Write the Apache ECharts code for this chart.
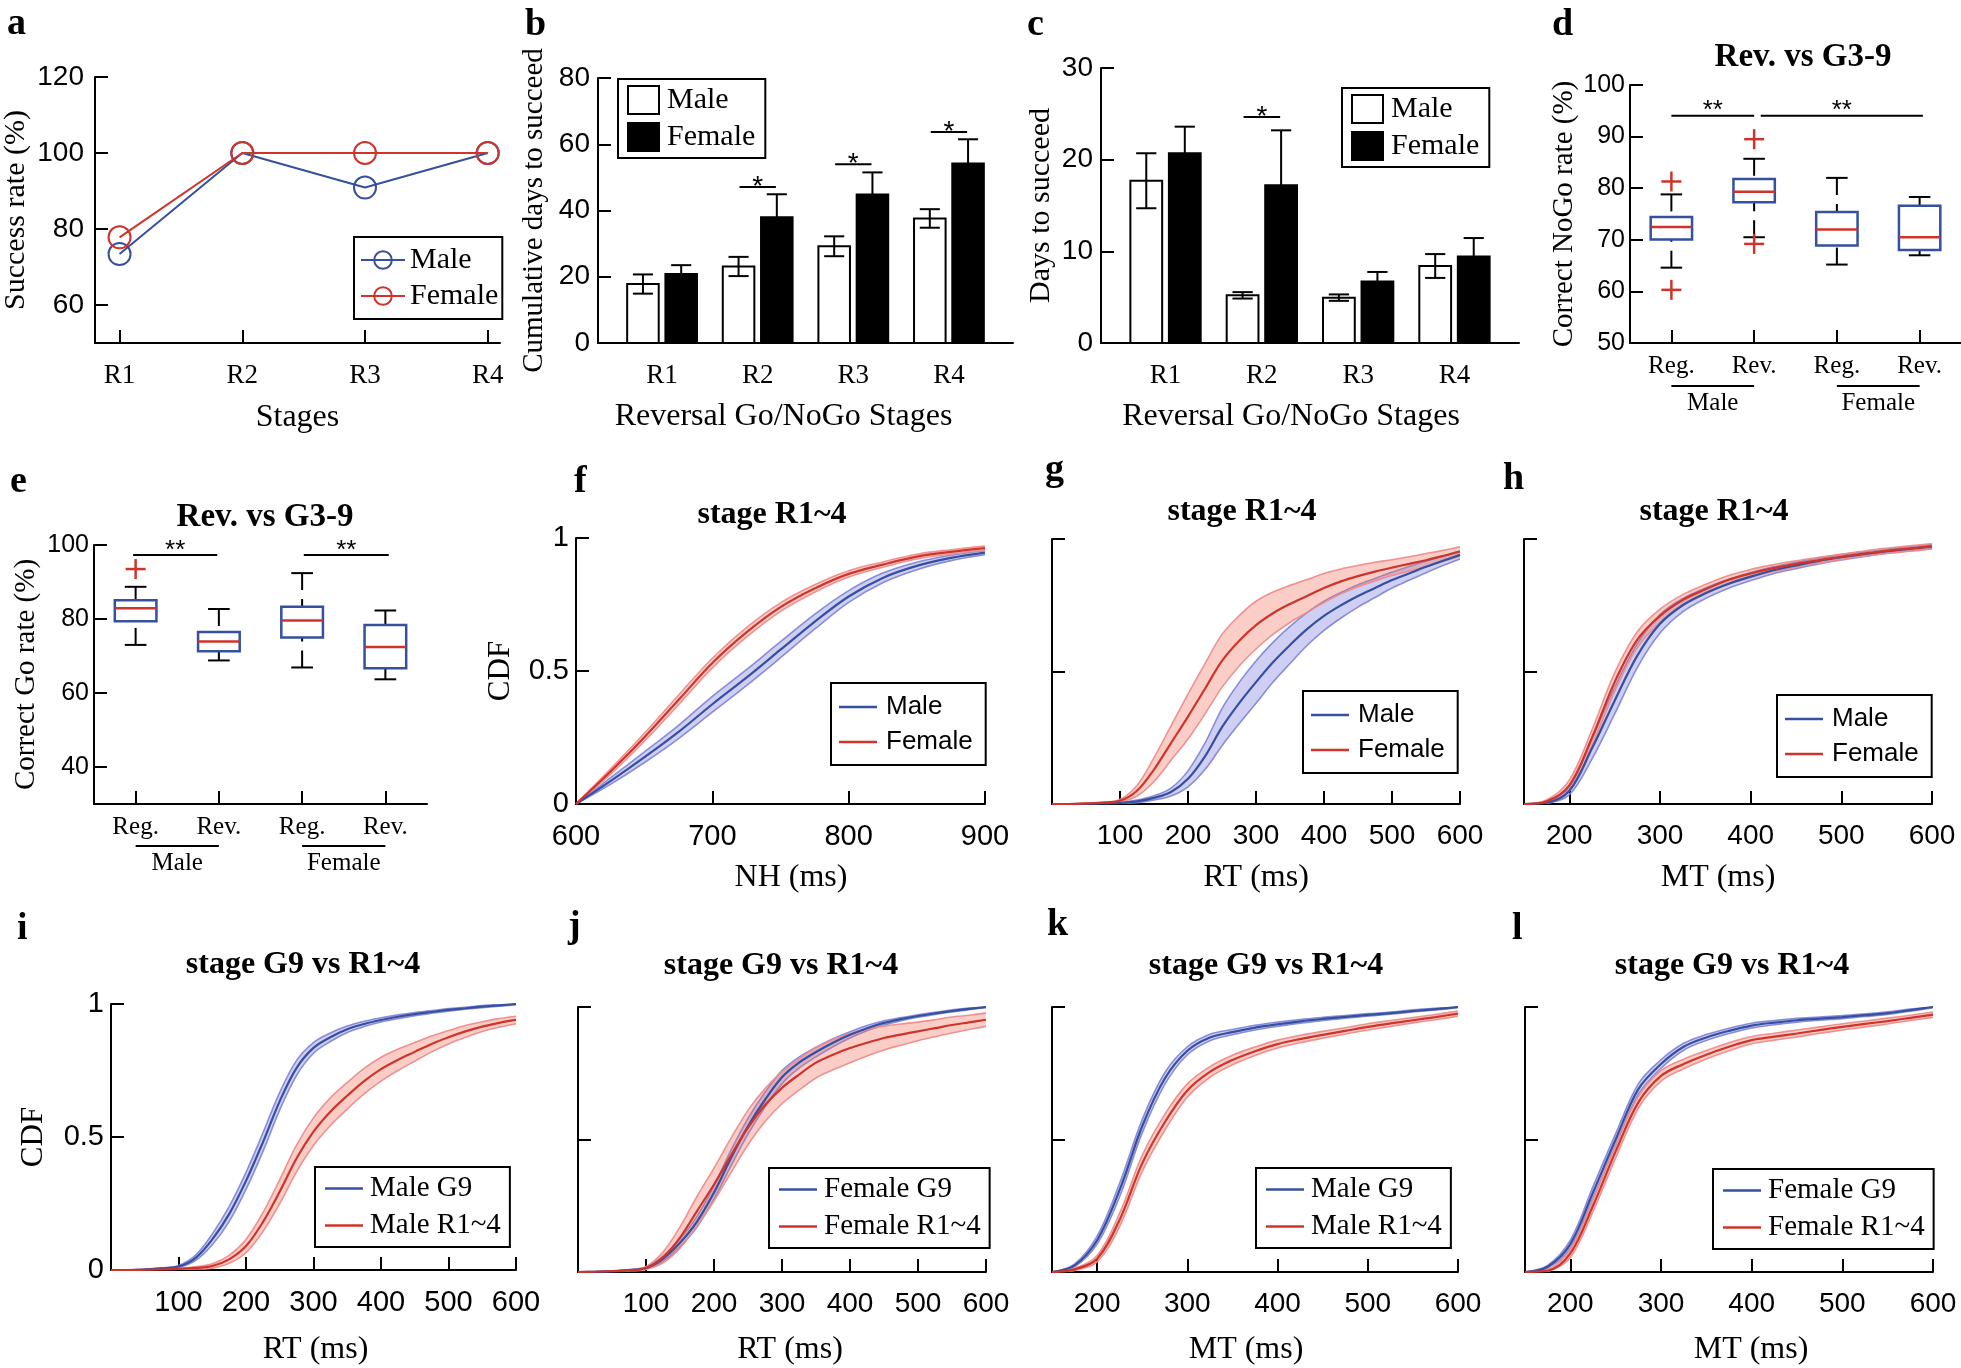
<!DOCTYPE html>
<html><head><meta charset="utf-8">
<script src="https://cdn.jsdelivr.net/npm/echarts@6/dist/echarts.min.js"></script>
<style>html,body{margin:0;padding:0;background:#fff}#c{width:1961px;height:1368px}</style>
</head><body><div id="c"></div><script>
// ---------------- data ----------------
const stageCats = ['R1', 'R2', 'R3', 'R4'];
const stageIdx = [1, 2, 3, 4];
// a
const aMale = [73.4, 100, 90.9, 100];
const aFemale = [77.8, 100, 100, 100];
const aTicks = [60, 80, 100, 120];
// b
const bMaleMean = [17.8, 23.1, 29.2, 37.6];
const bMaleErr = [2.9, 2.9, 3.0, 2.8];
const bFemaleMean = [20.8, 38.0, 44.8, 54.2];
const bFemaleErr = [2.7, 6.9, 6.7, 7.3];
const bSigStage = [2, 3, 4];
const bSigHeight = [47.1, 54.0, 63.7];
// c
const cMaleMean = [17.7, 5.2, 4.95, 8.4];
const cMaleErr = [3.0, 0.35, 0.35, 1.3];
const cFemaleMean = [20.7, 17.2, 6.7, 9.45];
const cFemaleErr = [2.9, 6.0, 1.05, 2.0];
const cSigStage = [2];
const cSigHeight = [24.65];
// d, e boxplots: [min, Q1, median, Q3, max]
const boxCats = ['Reg.', 'Rev.', 'Reg.', 'Rev.'];
const groupNames = ['Male', 'Female'];
const groupSpans = [[1, 2], [3, 4]];
const dBoxes = [[64.6, 70.05, 72.5, 74.4, 78.8], [70.5, 77.3, 79.3, 81.8, 85.7], [65.2, 68.9, 72.0, 75.4, 82.0], [67.0, 68.0, 70.5, 76.6, 78.3]];
const dOutliers = [[1, 81.3], [1, 60.3], [2, 89.5], [2, 69.2]];
const dSig = [[1, 2, 94.05], [2.08, 4.04, 94.05]];
const eBoxes = [[73.0, 79.4, 82.9, 85.1, 88.7], [68.8, 71.3, 73.9, 76.5, 82.7], [66.9, 75.0, 79.6, 83.3, 92.4], [63.7, 66.7, 72.4, 78.4, 82.3]];
const eOutliers = [[1, 93.5]];
const eSig = [[0.97, 1.98, 97.3], [3.02, 4.04, 97.3]];
const eTicks = [40, 60, 80, 100];
// CDF ticks
const cdfTicks = [0, 0.5, 1];
const nhTicks = [600, 700, 800, 900];
const rtTicks = [100, 200, 300, 400, 500, 600];
const mtTicks = [200, 300, 400, 500, 600];
// f (NH, ms)
const fX = [600, 625, 650, 675, 700, 725, 750, 775, 800, 825, 850, 875, 900];
const fMale = [0, 0.085, 0.175, 0.27, 0.375, 0.475, 0.58, 0.685, 0.78, 0.85, 0.895, 0.925, 0.945];
const fMaleHW = [0, 0.012, 0.02, 0.025, 0.03, 0.03, 0.03, 0.028, 0.022, 0.018, 0.014, 0.01, 0.008];
const fFemale = [0, 0.12, 0.25, 0.39, 0.53, 0.645, 0.74, 0.81, 0.865, 0.9, 0.93, 0.948, 0.962];
const fFemaleHW = [0, 0.01, 0.015, 0.018, 0.018, 0.018, 0.016, 0.014, 0.012, 0.01, 0.009, 0.008, 0.008];
// RT grid (g, i, j)
const rtX = [0, 25, 50, 75, 100, 125, 150, 175, 200, 225, 250, 275, 300, 325, 350, 375, 400, 425, 450, 475, 500, 525, 550, 575, 600];
// g
const gMale = [0, 0, 0.001, 0.002, 0.004, 0.01, 0.023, 0.045, 0.095, 0.18, 0.29, 0.38, 0.46, 0.535, 0.6, 0.66, 0.71, 0.75, 0.785, 0.815, 0.845, 0.87, 0.895, 0.918, 0.94];
const gMaleHW = [0, 0, 0, 0.001, 0.002, 0.005, 0.008, 0.015, 0.03, 0.05, 0.07, 0.078, 0.08, 0.075, 0.07, 0.062, 0.055, 0.048, 0.042, 0.036, 0.03, 0.026, 0.022, 0.018, 0.015];
const gFemale = [0, 0, 0.002, 0.005, 0.012, 0.05, 0.13, 0.23, 0.33, 0.435, 0.54, 0.615, 0.675, 0.72, 0.755, 0.785, 0.815, 0.84, 0.86, 0.877, 0.892, 0.906, 0.92, 0.936, 0.953];
const gFemaleHW = [0, 0, 0.001, 0.002, 0.005, 0.02, 0.045, 0.065, 0.085, 0.095, 0.1, 0.095, 0.09, 0.08, 0.07, 0.062, 0.055, 0.047, 0.04, 0.035, 0.03, 0.027, 0.025, 0.021, 0.018];
// i
const iMaleG9 = [0, 0, 0.002, 0.006, 0.013, 0.045, 0.115, 0.21, 0.335, 0.48, 0.635, 0.76, 0.835, 0.875, 0.905, 0.925, 0.94, 0.952, 0.962, 0.97, 0.978, 0.984, 0.99, 0.995, 1.0];
const iMaleG9HW = [0, 0, 0, 0.002, 0.004, 0.01, 0.02, 0.028, 0.032, 0.035, 0.033, 0.028, 0.02, 0.016, 0.012, 0.01, 0.008, 0.007, 0.006, 0.005, 0.005, 0.004, 0.004, 0.003, 0.003];
const iMaleR = [0, 0, 0.001, 0.002, 0.004, 0.008, 0.015, 0.04, 0.09, 0.18, 0.295, 0.42, 0.52, 0.595, 0.655, 0.71, 0.755, 0.79, 0.82, 0.85, 0.875, 0.897, 0.915, 0.929, 0.94];
const iMaleRHW = [0, 0, 0, 0.001, 0.002, 0.004, 0.008, 0.015, 0.025, 0.035, 0.045, 0.05, 0.052, 0.052, 0.05, 0.048, 0.045, 0.04, 0.035, 0.03, 0.025, 0.022, 0.018, 0.016, 0.014];
// j
const jFemG9 = [0, 0.001, 0.003, 0.007, 0.015, 0.05, 0.11, 0.19, 0.3, 0.43, 0.55, 0.65, 0.735, 0.79, 0.83, 0.865, 0.895, 0.92, 0.94, 0.954, 0.966, 0.976, 0.985, 0.993, 1.0];
const jFemG9HW = [0, 0, 0, 0.002, 0.004, 0.01, 0.015, 0.02, 0.025, 0.03, 0.03, 0.028, 0.025, 0.021, 0.018, 0.015, 0.012, 0.01, 0.008, 0.006, 0.005, 0.004, 0.004, 0.003, 0.003];
const jFemR = [0, 0.001, 0.003, 0.006, 0.015, 0.055, 0.13, 0.23, 0.33, 0.44, 0.545, 0.63, 0.695, 0.745, 0.79, 0.82, 0.845, 0.865, 0.883, 0.896, 0.908, 0.92, 0.932, 0.942, 0.952];
const jFemRHW = [0, 0, 0.001, 0.002, 0.005, 0.02, 0.04, 0.055, 0.062, 0.065, 0.065, 0.062, 0.06, 0.059, 0.058, 0.057, 0.055, 0.05, 0.045, 0.04, 0.035, 0.032, 0.03, 0.027, 0.025];
// MT grid (h, k, l)
const mtX = [150, 175, 200, 225, 250, 275, 300, 325, 350, 375, 400, 425, 450, 475, 500, 525, 550, 575, 600];
// h
const hMale = [0, 0.005, 0.05, 0.21, 0.39, 0.56, 0.68, 0.75, 0.795, 0.83, 0.858, 0.882, 0.9, 0.917, 0.931, 0.943, 0.954, 0.963, 0.972];
const hMaleHW = [0, 0.003, 0.015, 0.04, 0.05, 0.045, 0.035, 0.025, 0.02, 0.017, 0.015, 0.013, 0.012, 0.011, 0.01, 0.009, 0.008, 0.008, 0.008];
const hFemale = [0, 0.01, 0.07, 0.25, 0.46, 0.62, 0.71, 0.77, 0.81, 0.845, 0.87, 0.89, 0.906, 0.92, 0.933, 0.945, 0.955, 0.964, 0.972];
const hFemaleHW = [0, 0.005, 0.02, 0.03, 0.035, 0.03, 0.025, 0.02, 0.018, 0.016, 0.015, 0.013, 0.012, 0.011, 0.01, 0.01, 0.01, 0.01, 0.01];
// k
const kMaleG9 = [0, 0.025, 0.12, 0.31, 0.55, 0.73, 0.835, 0.885, 0.905, 0.922, 0.935, 0.946, 0.955, 0.963, 0.97, 0.977, 0.985, 0.992, 1.0];
const kMaleG9HW = [0, 0.005, 0.015, 0.025, 0.025, 0.022, 0.015, 0.012, 0.01, 0.009, 0.008, 0.007, 0.006, 0.005, 0.005, 0.004, 0.004, 0.003, 0.003];
const kMaleR = [0, 0.01, 0.05, 0.197, 0.41, 0.565, 0.685, 0.755, 0.8, 0.833, 0.86, 0.879, 0.895, 0.91, 0.925, 0.938, 0.95, 0.962, 0.975];
const kMaleRHW = [0, 0.004, 0.012, 0.025, 0.03, 0.03, 0.025, 0.02, 0.018, 0.016, 0.015, 0.014, 0.013, 0.012, 0.012, 0.011, 0.01, 0.01, 0.01];
// l
const lFemG9 = [0, 0.02, 0.105, 0.3, 0.5, 0.69, 0.785, 0.85, 0.885, 0.91, 0.93, 0.941, 0.95, 0.956, 0.962, 0.969, 0.977, 0.988, 1.0];
const lFemG9HW = [0, 0.005, 0.015, 0.022, 0.022, 0.02, 0.016, 0.013, 0.011, 0.01, 0.009, 0.008, 0.007, 0.006, 0.006, 0.005, 0.005, 0.004, 0.003];
const lFemR = [0, 0.005, 0.07, 0.25, 0.455, 0.64, 0.74, 0.785, 0.82, 0.85, 0.875, 0.888, 0.9, 0.913, 0.925, 0.936, 0.947, 0.959, 0.971];
const lFemRHW = [0, 0.003, 0.015, 0.022, 0.025, 0.022, 0.02, 0.018, 0.016, 0.015, 0.014, 0.013, 0.013, 0.012, 0.012, 0.011, 0.011, 0.01, 0.01];

// ---------------- style / layout ----------------
const SERIF = '"Liberation Serif","Times New Roman",serif';
const SANS = '"Liberation Sans",Arial,sans-serif';
const BLUE = '#34509f', RED = '#cf342a';
const BLUE_FILL = 'rgba(95,95,215,0.30)', BLUE_EDGE = 'rgba(125,130,215,0.9)';
const RED_FILL = 'rgba(240,110,90,0.34)', RED_EDGE = 'rgba(238,140,140,0.95)';
const BAR_W = 0.33, BAR_OFF = 0.2, CAP_W = 0.21, SIG_HALF = 0.19;
const BOX_W = 0.5, WCAP_W = 0.26, SMOOTH = 0.35;

const layout = [
  {left: 94, top: 77, width: 406, height: 266},     // a
  {left: 598, top: 78, width: 415, height: 265},    // b
  {left: 1101, top: 68, width: 418, height: 275},   // c
  {left: 1630, top: 85, width: 335, height: 258},   // d
  {left: 94, top: 545, width: 333, height: 259},    // e
  {left: 576, top: 538, width: 409, height: 266},   // f
  {left: 1052, top: 539, width: 408, height: 265},  // g
  {left: 1524, top: 539, width: 408, height: 265},  // h
  {left: 111, top: 1004, width: 405, height: 266},  // i
  {left: 578, top: 1007, width: 408, height: 265},  // j
  {left: 1052, top: 1007, width: 406, height: 265}, // k
  {left: 1525, top: 1007, width: 408, height: 265}  // l
];

const AX = {show: true, onZero: false, lineStyle: {color: '#000', width: 2}};
const NO = {show: false};
const TICK_STYLE = {show: true, inside: true, length: 13, lineStyle: {color: '#000', width: 2}};
function tick(vals) { return Object.assign({customValues: vals}, TICK_STYLE); }
function lbl(font, size, margin, extra) { return Object.assign({fontFamily: font, fontSize: size, color: '#000', margin: margin}, extra || {}); }
function nm(size, extra) { return Object.assign({fontFamily: SERIF, fontSize: size, color: '#000'}, extra || {}); }
function xVal(gi, min, max, o) {
  return Object.assign({gridIndex: gi, type: 'value', min, max, axisLine: AX, splitLine: NO, nameLocation: 'middle'}, o);
}
function yVal(gi, min, max, o) {
  return Object.assign({gridIndex: gi, type: 'value', min, max, axisLine: AX, splitLine: NO, nameLocation: 'middle', nameRotate: 90}, o);
}
const stageLbl = (m) => lbl(SERIF, 27, m, {customValues: stageIdx, formatter: v => stageCats[v - 1]});
const boxLbl = lbl(SERIF, 25, 11, {customValues: stageIdx, formatter: v => boxCats[v - 1]});

const xAxis = [
  xVal(0, 0.8, 4.1, {axisTick: tick(stageIdx), axisLabel: stageLbl(19), name: 'Stages', nameGap: 59, nameTextStyle: nm(32)}),
  xVal(1, 0.33, 4.67, {axisTick: NO, axisLabel: stageLbl(19), name: 'Reversal Go/NoGo Stages', nameGap: 58, nameTextStyle: nm(32, {padding: [0, 44, 0, 0]})}),
  xVal(2, 0.33, 4.67, {axisTick: NO, axisLabel: stageLbl(19), name: 'Reversal Go/NoGo Stages', nameGap: 58, nameTextStyle: nm(32, {padding: [0, 38, 0, 0]})}),
  xVal(3, 0.5, 4.5, {axisTick: tick(stageIdx), axisLabel: boxLbl}),
  xVal(4, 0.5, 4.5, {axisTick: tick(stageIdx), axisLabel: boxLbl}),
  xVal(5, 600, 900, {axisTick: tick(nhTicks), axisLabel: lbl(SANS, 29, 18, {customValues: nhTicks}),
    name: 'NH (ms)', nameGap: 58, nameTextStyle: nm(32, {padding: [0, 0, 0, 21]})}),
  xVal(6, 0, 600, {axisTick: tick(rtTicks), axisLabel: lbl(SANS, 28, 18, {customValues: rtTicks}),
    name: 'RT (ms)', nameGap: 58, nameTextStyle: nm(32)}),
  xVal(7, 150, 600, {axisTick: tick(mtTicks), axisLabel: lbl(SANS, 28, 18, {customValues: mtTicks}),
    name: 'MT (ms)', nameGap: 58, nameTextStyle: nm(32, {padding: [0, 20, 0, 0]})}),
  xVal(8, 0, 600, {axisTick: tick(rtTicks), axisLabel: lbl(SANS, 29, 18, {customValues: rtTicks}),
    name: 'RT (ms)', nameGap: 64, nameTextStyle: nm(32, {padding: [0, 0, 0, 4]})}),
  xVal(9, 0, 600, {axisTick: tick(rtTicks), axisLabel: lbl(SANS, 28, 18, {customValues: rtTicks}),
    name: 'RT (ms)', nameGap: 62, nameTextStyle: nm(32, {padding: [0, 0, 0, 16]})}),
  xVal(10, 150, 600, {axisTick: tick(mtTicks), axisLabel: lbl(SANS, 28, 18, {customValues: mtTicks}),
    name: 'MT (ms)', nameGap: 62, nameTextStyle: nm(32, {padding: [0, 18, 0, 0]})}),
  xVal(11, 150, 600, {axisTick: tick(mtTicks), axisLabel: lbl(SANS, 28, 18, {customValues: mtTicks}),
    name: 'MT (ms)', nameGap: 62, nameTextStyle: nm(32, {padding: [0, 0, 0, 44]})})
];

const noLabelY = {axisTick: tick([0.5, 1]), axisLabel: NO};
const yAxis = [
  yVal(0, 50, 120, {axisTick: tick(aTicks), axisLabel: lbl(SANS, 28, 11, {customValues: aTicks}),
    name: 'Success rate (%)', nameGap: 64, nameTextStyle: nm(30)}),
  yVal(1, 0, 80, {interval: 20, axisTick: TICK_STYLE, axisLabel: lbl(SANS, 28, 8),
    name: 'Cumulative days to succeed', nameGap: 49, nameTextStyle: nm(29)}),
  yVal(2, 0, 30, {interval: 10, axisTick: TICK_STYLE, axisLabel: lbl(SANS, 28, 8),
    name: 'Days to succeed', nameGap: 45, nameTextStyle: nm(30)}),
  yVal(3, 50, 100, {interval: 10, axisTick: TICK_STYLE, axisLabel: lbl(SANS, 25, 5),
    name: 'Correct NoGo rate (%)', nameGap: 51, nameTextStyle: nm(29)}),
  yVal(4, 30, 100, {axisTick: tick(eTicks), axisLabel: lbl(SANS, 25, 5, {customValues: eTicks}),
    name: 'Correct Go rate (%)', nameGap: 53, nameTextStyle: nm(29)}),
  yVal(5, 0, 1, {axisTick: tick(cdfTicks), axisLabel: lbl(SANS, 29, 7, {customValues: cdfTicks}),
    name: 'CDF', nameGap: 60, nameTextStyle: nm(31)}),
  yVal(6, 0, 1, noLabelY),
  yVal(7, 0, 1, noLabelY),
  yVal(8, 0, 1, {axisTick: tick(cdfTicks), axisLabel: lbl(SANS, 29, 7, {customValues: cdfTicks}),
    name: 'CDF', nameGap: 62, nameTextStyle: nm(31)}),
  yVal(9, 0, 1, noLabelY),
  yVal(10, 0, 1, noLabelY),
  yVal(11, 0, 1, noLabelY)
];

// ---------------- series builders ----------------
function barSeries(gi, name, means, errs, off, fill) {
  return {
    type: 'custom', name, xAxisIndex: gi, yAxisIndex: gi, silent: true,
    itemStyle: {color: fill, borderColor: '#000', borderWidth: 2},
    data: means.map((m, i) => [stageIdx[i], m, errs[i]]),
    encode: {x: 0, y: 1},
    renderItem(p, api) {
      const x = api.value(0) + off, v = api.value(1), e = api.value(2);
      const top = api.coord([x, v]), base = api.coord([x, 0]);
      const w = api.size([BAR_W, 0])[0], cw = api.size([CAP_W, 0])[0] / 2;
      const et = api.coord([x, v + e])[1], eb = api.coord([x, v - e])[1];
      const st = {stroke: '#000', lineWidth: 2};
      return {type: 'group', children: [
        {type: 'rect', shape: {x: top[0] - w / 2, y: top[1], width: w, height: base[1] - top[1]}, style: {fill, stroke: '#000', lineWidth: 2}},
        {type: 'line', shape: {x1: top[0], y1: et, x2: top[0], y2: eb}, style: st},
        {type: 'line', shape: {x1: top[0] - cw, y1: et, x2: top[0] + cw, y2: et}, style: st},
        {type: 'line', shape: {x1: top[0] - cw, y1: eb, x2: top[0] + cw, y2: eb}, style: st}
      ]};
    }
  };
}
function sigSeries(gi, data, label, size, dy) {
  return {
    type: 'custom', xAxisIndex: gi, yAxisIndex: gi, silent: true, data, encode: {x: 0, y: 2},
    renderItem(p, api) {
      const a = api.coord([api.value(0), api.value(2)]), b = api.coord([api.value(1), api.value(2)]);
      return {type: 'group', children: [
        {type: 'line', shape: {x1: a[0], y1: a[1], x2: b[0], y2: b[1]}, style: {stroke: '#000', lineWidth: 2}},
        {type: 'text', x: (a[0] + b[0]) / 2, y: a[1] + dy, style: {text: label, font: size + 'px ' + SANS, fill: '#000', align: 'center', verticalAlign: 'middle'}}
      ]};
    }
  };
}
function boxSeries(gi, boxes) {
  return {
    type: 'custom', xAxisIndex: gi, yAxisIndex: gi, silent: true,
    data: boxes.map((b, i) => [i + 1].concat(b)), encode: {x: 0, y: [1, 5]},
    renderItem(p, api) {
      const x = api.value(0);
      const vals = [1, 2, 3, 4, 5].map(k => api.coord([x, api.value(k)])[1]);
      const cx = api.coord([x, api.value(3)])[0];
      const hw = api.size([BOX_W, 0])[0] / 2, cw = api.size([WCAP_W, 0])[0] / 2;
      const [ymin, yq1, ymed, yq3, ymax] = vals;
      const blk = {stroke: '#000', lineWidth: 2};
      const dash = {stroke: '#000', lineWidth: 2, lineDash: [17, 9]};
      return {type: 'group', children: [
        {type: 'line', shape: {x1: cx, y1: ymax, x2: cx, y2: yq3}, style: dash},
        {type: 'line', shape: {x1: cx, y1: ymin, x2: cx, y2: yq1}, style: dash},
        {type: 'line', shape: {x1: cx - cw, y1: ymax, x2: cx + cw, y2: ymax}, style: blk},
        {type: 'line', shape: {x1: cx - cw, y1: ymin, x2: cx + cw, y2: ymin}, style: blk},
        {type: 'rect', shape: {x: cx - hw, y: yq3, width: 2 * hw, height: yq1 - yq3}, style: {fill: 'none', stroke: BLUE, lineWidth: 2.5}},
        {type: 'line', shape: {x1: cx - hw, y1: ymed, x2: cx + hw, y2: ymed}, style: {stroke: RED, lineWidth: 2.5}}
      ]};
    }
  };
}
function outlierSeries(gi, pts) {
  return {
    type: 'custom', xAxisIndex: gi, yAxisIndex: gi, silent: true, data: pts, encode: {x: 0, y: 1},
    renderItem(p, api) {
      const c = api.coord([api.value(0), api.value(1)]), s = 10;
      const st = {stroke: RED, lineWidth: 2.5};
      return {type: 'group', children: [
        {type: 'line', shape: {x1: c[0] - s, y1: c[1], x2: c[0] + s, y2: c[1]}, style: st},
        {type: 'line', shape: {x1: c[0], y1: c[1] - s, x2: c[0], y2: c[1] + s}, style: st}
      ]};
    }
  };
}
function groupSeries(gi, yMin, lineOff, textOff, size) {
  return {
    type: 'custom', xAxisIndex: gi, yAxisIndex: gi, silent: true, clip: false,
    data: groupSpans.map(s => [s[0], s[1]]),
    renderItem(p, api) {
      const a = api.coord([api.value(0), yMin]), b = api.coord([api.value(1), yMin]);
      return {type: 'group', children: [
        {type: 'line', shape: {x1: a[0], y1: a[1] + lineOff, x2: b[0], y2: a[1] + lineOff}, style: {stroke: '#000', lineWidth: 2}},
        {type: 'text', x: (a[0] + b[0]) / 2, y: a[1] + textOff, style: {text: groupNames[p.dataIndex], font: size + 'px ' + SERIF, fill: '#000', align: 'center', verticalAlign: 'middle'}}
      ]};
    }
  };
}
// CDF: shaded band (custom polygon through the axis scales) + mean line
function cdf(gi, name, xs, mean, hw, color, fill, edge) {
  const lower = mean.map((m, i) => Math.max(0, m - hw[i]));
  const upper = mean.map((m, i) => Math.min(1, m + hw[i]));
  return [
    {
      type: 'custom', xAxisIndex: gi, yAxisIndex: gi, silent: true, clip: true,
      data: xs.map((x, i) => [x, lower[i], upper[i]]), encode: {x: 0, y: [1, 2]},
      renderItem(p, api) {
        if (p.dataIndex !== 0) return null;
        const up = xs.map((x, i) => api.coord([x, upper[i]]));
        const lo = xs.map((x, i) => api.coord([x, lower[i]]));
        return {type: 'group', children: [
          {type: 'polygon', shape: {points: up.concat(lo.slice().reverse()), smooth: SMOOTH}, style: {fill: fill, stroke: null}},
          {type: 'polyline', shape: {points: up, smooth: SMOOTH}, style: {fill: null, stroke: edge, lineWidth: 1.6}},
          {type: 'polyline', shape: {points: lo, smooth: SMOOTH}, style: {fill: null, stroke: edge, lineWidth: 1.6}}
        ]};
      }
    },
    {
      type: 'line', name, xAxisIndex: gi, yAxisIndex: gi, symbol: 'none', smooth: SMOOTH, silent: true,
      data: xs.map((x, i) => [x, mean[i]]), itemStyle: {color}, lineStyle: {color, width: 2.2}
    }
  ];
}

const series = [
  // a
  {type: 'line', name: 'a:Male', xAxisIndex: 0, yAxisIndex: 0, data: stageIdx.map((x, i) => [x, aMale[i]]),
   symbol: 'circle', symbolSize: 22, lineStyle: {color: BLUE, width: 2}, itemStyle: {color: 'rgba(255,255,255,0)', borderColor: BLUE, borderWidth: 2}},
  {type: 'line', name: 'a:Female', xAxisIndex: 0, yAxisIndex: 0, data: stageIdx.map((x, i) => [x, aFemale[i]]),
   symbol: 'circle', symbolSize: 22, lineStyle: {color: RED, width: 2}, itemStyle: {color: 'rgba(255,255,255,0)', borderColor: RED, borderWidth: 2}},
  // b
  barSeries(1, 'b:Male', bMaleMean, bMaleErr, -BAR_OFF, '#fff'),
  barSeries(1, 'b:Female', bFemaleMean, bFemaleErr, BAR_OFF, '#000'),
  sigSeries(1, bSigStage.map((s, i) => [s - SIG_HALF, s + SIG_HALF, bSigHeight[i]]), '*', 28, 0),
  // c
  barSeries(2, 'c:Male', cMaleMean, cMaleErr, -BAR_OFF, '#fff'),
  barSeries(2, 'c:Female', cFemaleMean, cFemaleErr, BAR_OFF, '#000'),
  sigSeries(2, cSigStage.map((s, i) => [s - SIG_HALF, s + SIG_HALF, cSigHeight[i]]), '*', 28, 0),
  // d
  boxSeries(3, dBoxes), outlierSeries(3, dOutliers), sigSeries(3, dSig, '**', 26, -5), groupSeries(3, 50, 43, 60, 25),
  // e
  boxSeries(4, eBoxes), outlierSeries(4, eOutliers), sigSeries(4, eSig, '**', 26, -4), groupSeries(4, 30, 42, 59, 25)
].concat(
  cdf(5, 'f:Male', fX, fMale, fMaleHW, BLUE, BLUE_FILL, BLUE_EDGE),
  cdf(5, 'f:Female', fX, fFemale, fFemaleHW, RED, RED_FILL, RED_EDGE),
  cdf(6, 'g:Male', rtX, gMale, gMaleHW, BLUE, BLUE_FILL, BLUE_EDGE),
  cdf(6, 'g:Female', rtX, gFemale, gFemaleHW, RED, RED_FILL, RED_EDGE),
  cdf(7, 'h:Male', mtX, hMale, hMaleHW, BLUE, BLUE_FILL, BLUE_EDGE),
  cdf(7, 'h:Female', mtX, hFemale, hFemaleHW, RED, RED_FILL, RED_EDGE),
  cdf(8, 'i:Male G9', rtX, iMaleG9, iMaleG9HW, BLUE, BLUE_FILL, BLUE_EDGE),
  cdf(8, 'i:Male R1~4', rtX, iMaleR, iMaleRHW, RED, RED_FILL, RED_EDGE),
  cdf(9, 'j:Female G9', rtX, jFemG9, jFemG9HW, BLUE, BLUE_FILL, BLUE_EDGE),
  cdf(9, 'j:Female R1~4', rtX, jFemR, jFemRHW, RED, RED_FILL, RED_EDGE),
  cdf(10, 'k:Male G9', mtX, kMaleG9, kMaleG9HW, BLUE, BLUE_FILL, BLUE_EDGE),
  cdf(10, 'k:Male R1~4', mtX, kMaleR, kMaleRHW, RED, RED_FILL, RED_EDGE),
  cdf(11, 'l:Female G9', mtX, lFemG9, lFemG9HW, BLUE, BLUE_FILL, BLUE_EDGE),
  cdf(11, 'l:Female R1~4', mtX, lFemR, lFemRHW, RED, RED_FILL, RED_EDGE)
);

// ---------------- legends ----------------
function leg(left, top, names, o) {
  return Object.assign({
    orient: 'vertical', left, top, data: names, selectedMode: false,
    borderColor: '#000', borderWidth: 2, backgroundColor: '#fff',
    formatter: n => n.slice(2)
  }, o);
}
const legSerif30 = {padding: [8, 4, 8, 6], itemGap: 6, itemWidth: 44, itemHeight: 22, textStyle: {fontFamily: SERIF, fontSize: 30, color: '#000'}};
const barLeg = (p) => [
  {name: p + ':Male', icon: 'rect', itemStyle: {color: '#fff', borderColor: '#000', borderWidth: 2}},
  {name: p + ':Female', icon: 'rect', itemStyle: {color: '#000', borderColor: '#000', borderWidth: 2}}
];
const lineLeg = (p, n1, n2) => [
  {name: p + ':' + n1, icon: 'rect', itemStyle: {color: BLUE, borderWidth: 0}},
  {name: p + ':' + n2, icon: 'rect', itemStyle: {color: RED, borderWidth: 0}}
];
const barLegStyle = {padding: [6, 10, 6, 9], itemGap: 7, itemWidth: 31, itemHeight: 28, textStyle: {fontFamily: SERIF, fontSize: 30, color: '#000', padding: [0, 0, 0, 3]}};
const sansLeg = {padding: [11, 13, 10, 8], itemGap: 9, itemWidth: 38, itemHeight: 2.5, textStyle: {fontFamily: SANS, fontSize: 26, color: '#000', padding: [0, 0, 0, 4]}};
const serifLeg = {padding: [7, 9, 7, 10], itemGap: 8, itemWidth: 38, itemHeight: 2.5, textStyle: {fontFamily: SERIF, fontSize: 29, color: '#000', padding: [0, 0, 0, 2]}};
const legend = [
  leg(354, 237, ['a:Male', 'a:Female'], legSerif30),
  leg(618, 79, barLeg('b'), barLegStyle),
  leg(1342, 88, barLeg('c'), barLegStyle),
  leg(831, 683, lineLeg('f', 'Male', 'Female'), sansLeg),
  leg(1303, 691, lineLeg('g', 'Male', 'Female'), sansLeg),
  leg(1777, 695, lineLeg('h', 'Male', 'Female'), sansLeg),
  leg(315, 1167, lineLeg('i', 'Male G9', 'Male R1~4'), serifLeg),
  leg(769, 1168, lineLeg('j', 'Female G9', 'Female R1~4'), serifLeg),
  leg(1256, 1168, lineLeg('k', 'Male G9', 'Male R1~4'), serifLeg),
  leg(1713, 1169, lineLeg('l', 'Female G9', 'Female R1~4'), serifLeg)
];

// ---------------- panel letters & titles ----------------
const letters = [['a', 7, 37], ['b', 525, 38], ['c', 1027, 38], ['d', 1552, 38], ['e', 10, 495], ['f', 574, 495],
  ['g', 1045, 483], ['h', 1503, 492], ['i', 17, 942], ['j', 568, 940], ['k', 1047, 938], ['l', 1512, 942]];
const titles = [['Rev. vs G3-9', 1803, 57, 33], ['Rev. vs G3-9', 265, 517, 33], ['stage R1~4', 772, 515, 32],
  ['stage R1~4', 1242, 512, 32], ['stage R1~4', 1714, 512, 32], ['stage G9 vs R1~4', 303, 965, 32],
  ['stage G9 vs R1~4', 781, 966, 32], ['stage G9 vs R1~4', 1266, 966, 32], ['stage G9 vs R1~4', 1732, 966, 32]];
const graphic = letters.map(([t, x, y]) => ({type: 'text', x, y: y - 13, silent: true,
  style: {text: t, font: 'bold 38px ' + SERIF, fill: '#000', align: 'left', verticalAlign: 'middle'}}))
  .concat(titles.map(([t, x, y, s]) => ({type: 'text', x, y, silent: true,
  style: {text: t, font: 'bold ' + s + 'px ' + SERIF, fill: '#000', align: 'center', verticalAlign: 'middle'}})));

const chart = echarts.init(document.getElementById('c'), null, {renderer: 'canvas', width: 1961, height: 1368});
chart.setOption({
  animation: false,
  backgroundColor: '#fff',
  grid: layout.map(g => Object.assign({containLabel: false}, g)),
  xAxis, yAxis, legend, series, graphic
});
</script></body></html>
